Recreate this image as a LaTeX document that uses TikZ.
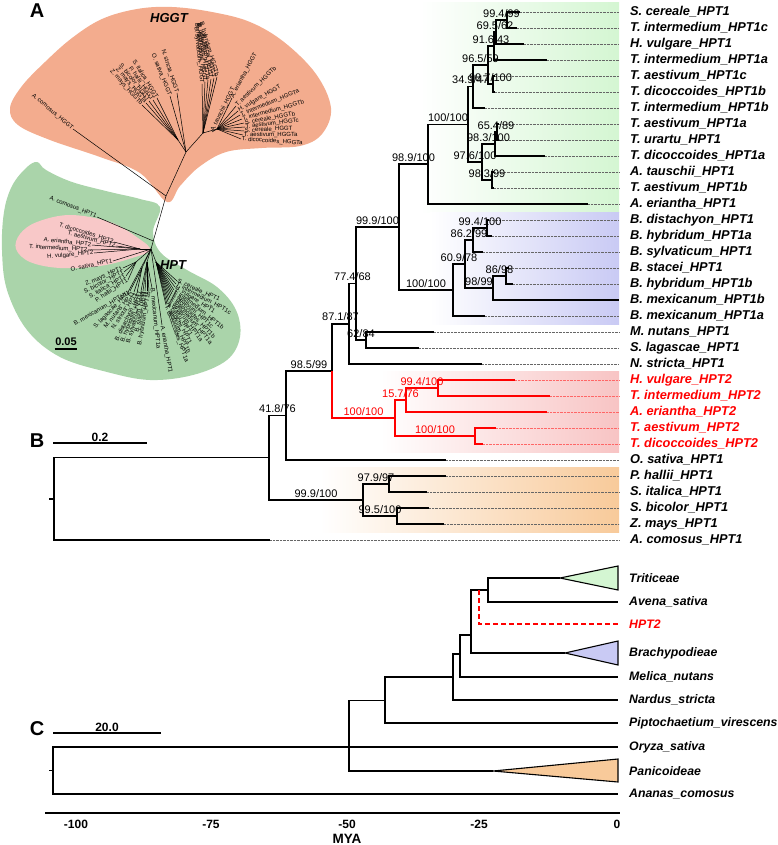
\documentclass[tikz,border=0pt]{standalone}
\usepackage{fontspec}
\setmainfont{Liberation Sans}
\definecolor{hggtorange}{HTML}{F3AC8E}
\definecolor{hptgreen}{HTML}{AAD4AA}
\definecolor{hptpink}{HTML}{F8C8C8}
\definecolor{tritgreen}{HTML}{D4F6D2}
\definecolor{brachblue}{HTML}{C9CAF4}
\definecolor{hpttwored}{HTML}{F8C4C4}
\definecolor{panorange}{HTML}{F8CA9A}
\begin{document}
\begin{tikzpicture}[x=1pt, y=-1pt,
  branch/.style={line width=1.4pt},
  cbranch/.style={line width=1.1pt},
  twig/.style={line width=0.5pt},
  dotl/.style={densely dotted, line width=0.4pt, shorten >=8pt},
  leaf/.style={anchor=west, inner sep=3pt, font=\fontsize{12.8}{13}\selectfont\bfseries\itshape},
  cleaf/.style={anchor=west, inner sep=3pt, font=\fontsize{12.3}{13}\selectfont\bfseries\itshape},
  supp/.style={font=\fontsize{11}{11}\selectfont, inner sep=1pt, above=1pt},
  panel/.style={font=\fontsize{20}{20}\selectfont\bfseries, inner sep=0pt},
  scl/.style={font=\fontsize{12}{12}\selectfont\bfseries, inner sep=1pt},
  tl/.style={font=\fontsize{6}{6}\selectfont, inner sep=0.6pt}]
\useasboundingbox (0,0) rectangle (777,845);

% panel A
\fill[hggtorange] plot[smooth cycle, tension=0.6] coordinates {(167,202) (140,173) (100,157) (50,140) (18,125) (10,108) (22,86) (45,62) (72,38) (102,19) (137,9) (172,7) (212,12) (250,22) (284,42) (316,74) (331,108) (322,134) (300,146) (262,148) (226,152) (199,167) (180,186)};
\fill[hptgreen] plot[smooth cycle, tension=0.6] coordinates {(160,207) (153,232) (161,253) (187,270) (217,287) (236,310) (240,337) (227,360) (193,375) (150,380) (107,372) (60,357) (27,330) (7,290) (2,250) (4,212) (12,186) (26,168) (37,162) (46,170) (72,182) (110,192) (140,199)};
\fill[hptpink] plot[smooth cycle, tension=0.6] coordinates {(150,250) (132,258) (100,266) (60,268) (30,262) (16,249) (20,234) (37,222) (70,215) (110,222) (138,238)};

\coordinate (hC) at (151,249);
\coordinate (sB) at (153.3,241);
\coordinate (sA) at (166,196);
\coordinate (gC) at (186,152);
\coordinate (gM) at (178,140);
\coordinate (gB) at (203,133);
\coordinate (gT) at (217,129);
\coordinate (h2) at (140,249);
\coordinate (hP) at (136,262);
\coordinate (hN) at (142,268);
\coordinate (hB) at (147,262);
\coordinate (hT) at (156,262);
\draw[twig] (hC) -- (sA) -- (gC);
\draw[twig] (gC) -- (gM);
\draw[twig] (gC) -- (gB) -- (gT);
\foreach \q in {h2,hP,hN,hB,hT} \draw[twig] (hC) -- (\q);

\foreach \p/\n/\x/\y/\ang/\anc/\tx in {
  sA/gComo/73/129/-40/east/A. comosus\_HGGT,
  gC/gOsat/170/96/-68/east/O. sativa\_HGGT,
  gC/gNstr/177/93/-72/east/N. stricta\_HGGT,
  gM/gSita/157/98/-58/east/S. italica\_HGGT,
  gM/gPhal/153/100/-55/east/P. hallii\_HGGT,
  gM/gSbic/149/101/-52/east/S. bicolor\_HGGT,
  gM/gZmaa/146/103/-50/east/Z. mays\_HGGTa,
  gM/gZmab/142/105/-48/east/Z. mays\_HGGTb,
  gB/gBsyl/202/84/-84/east/B. sylvaticum\_HGGT,
  gB/gBmex/205/82/-82/east/B. mexicanum\_HGGT,
  gB/gBhya/208/80/-80/east/B. hybridum\_HGGTa,
  gB/gBdis/211/79/-78/east/B. distachyon\_HGGT,
  gB/gBsta/214/78/-76/east/B. stacei\_HGGT,
  gB/gBhyb/217/77/-74/east/B. hybridum\_HGGTb,
  gT/gAtau/212/132/64/west/A. tauschii\_HGGT,
  gT/gAeri/232/98/62/west/A. eriantha\_HGGT,
  gT/gTaeb/236/106/44/west/T. aestivum\_HGGTb,
  gT/gHvul/238/111/30/west/H. vulgare\_HGGT,
  gT/gTina/240/115/22/west/T. intermedium\_HGGTa,
  gT/gTinb/242/119/15/west/T. intermedium\_HGGTb,
  gT/gSceb/244/123/10/west/S. cereale\_HGGTb,
  gT/gTaec/245/127/7/west/T. aestivum\_HGGTc,
  gT/gScer/244/131/3/west/S. cereale\_HGGT,
  gT/gTaea/243/135/0/west/T. aestivum\_HGGTa,
  gT/gTdia/241/139/-4/west/T. dicoccoides\_HGGTa,
  sB/hComo/97/217/-22/east/A. comosus\_HPT1,
  h2/hTdi2/114/242/-17/east/T. dicoccoides\_HPT2,
  h2/hTae2/116/246/-15/east/T. aestivum\_HPT2,
  h2/hAer2/92/245/-6/east/A. eriantha\_HPT2,
  h2/hTin2/88/250/-3/east/T. intermedium\_HPT2,
  h2/hHvu2/94/253/5/east/H. vulgare\_HPT2,
  hC/hOsat/113/261/12/east/O. sativa\_HPT1,
  hP/hZmay/123/268/24/east/Z. mays\_HPT1,
  hP/hSbic/124/272/27/east/S. bicolor\_HPT1,
  hP/hSita/126/276/30/east/S. italica\_HPT1,
  hP/hPhal/128/280/33/east/P. hallii\_HPT1,
  hC/hBmxb/127/294/30/east/B. mexicanum\_HPT1b,
  hN/hSlag/130/291/46/east/S. lagascae\_HPT1,
  hN/hMnut/134/292/51/east/M. nutans\_HPT1,
  hN/hNstr/137/293/56/east/N. stricta\_HPT1,
  hB/hBdis/141/291/64/east/B. distachyon\_HPT1,
  hB/hBhya/143/291/68/east/B. hybridum\_HPT1a,
  hB/hBsyl/145/291/72/east/B. sylvaticum\_HPT1,
  hB/hBsta/147/291/76/east/B. stacei\_HPT1,
  hB/hBhyb/149/291/80/east/B. hybridum\_HPT1b,
  hB/hBmxa/152/288/-84/west/B. mexicanum\_HPT1a,
  hC/hAer1/162/325/-80/west/A. eriantha\_HPT1,
  hT/hScer/177/281/-24/west/S. cereale\_HPT1,
  hT/hTinc/176/284/-28/west/T. intermedium\_HPT1c,
  hT/hHvul/175/287/-33/west/H. vulgare\_HPT1,
  hT/hTinb/174/290/-38/west/T. intermedium\_HPT1b,
  hT/hTaec/173/292/-42/west/T. aestivum\_HPT1c,
  hT/hTdib/172/294/-46/west/T. dicoccoides\_HPT1b,
  hT/hTina/171/296/-50/west/T. intermedium\_HPT1a,
  hT/hTaea/170/298/-54/west/T. aestivum\_HPT1a,
  hT/hTura/169/300/-58/west/T. urartu\_HPT1,
  hT/hAtau/168/302/-62/west/A. tauschii\_HPT1,
  hT/hTaeb/167/304/-66/west/T. aestivum\_HPT1b,
  hT/hTdia/166/305/-70/west/T. dicoccoides\_HPT1a}{
  \coordinate (\n) at (\x,\y);
  \draw[twig] (\p) -- (\n);
  \node[tl, rotate=\ang, anchor=\anc] (l\n) at (\n) {\tx};
}
\node[font=\fontsize{13}{13}\selectfont\bfseries\itshape] (hggtlab) at (169,18) {HGGT};
\node[font=\fontsize{13}{13}\selectfont\bfseries\itshape] (hptlab) at (173,265) {HPT};
\node[font=\fontsize{11}{11}\selectfont\bfseries, inner sep=0.5pt] (sca) at (66,342) {0.05};
\draw[line width=1.2pt] (sca.south west) ++(0,2.5) coordinate (scal) (sca.south east) ++(0,2.5) coordinate (scar);
\draw[line width=1.2pt] (scal) -- (scar);
\node[panel] (pA) at (37,11) {A};

% panel B
\shade[left color=white, right color=tritgreen] (420,3) rectangle (619,212);
\shade[left color=white, right color=brachblue] (430,212) rectangle (619,324);
\shade[left color=white, right color=hpttwored] (380,371) rectangle (619,452);
\shade[left color=white, right color=panorange] (320,467) rectangle (619,532);

\foreach \n/\x/\c/\tx [count=\i] in {
  Scer/520/black/S. cereale\_HPT1, Tint1c/517/black/T. intermedium\_HPT1c,
  Hvul1/524/black/H. vulgare\_HPT1, Tint1a/547/black/T. intermedium\_HPT1a,
  Taes1c/495/black/T. aestivum\_HPT1c, Tdic1b/495/black/T. dicoccoides\_HPT1b,
  Tint1b/485/black/T. intermedium\_HPT1b, Taes1a/499/black/T. aestivum\_HPT1a,
  Tura/499/black/T. urartu\_HPT1, Tdic1a/545/black/T. dicoccoides\_HPT1a,
  Atau/494/black/A. tauschii\_HPT1, Taes1b/494/black/T. aestivum\_HPT1b,
  Aeri1/588/black/A. eriantha\_HPT1, Bdis/489/black/B. distachyon\_HPT1,
  Bhyb1a/492/black/B. hybridum\_HPT1a, Bsyl/483/black/B. sylvaticum\_HPT1,
  Bsta/509/black/B. stacei\_HPT1, Bhyb1b/513/black/B. hybridum\_HPT1b,
  Bmex1b/619/black/B. mexicanum\_HPT1b, Bmex1a/485/black/B. mexicanum\_HPT1a,
  Mnut/434/black/M. nutans\_HPT1, Slag/419/black/S. lagascae\_HPT1,
  Nstr/482/black/N. stricta\_HPT1, Hvul2/515/red/H. vulgare\_HPT2,
  Tint2/550/red/T. intermedium\_HPT2, Aeri2/547/red/A. eriantha\_HPT2,
  Taes2/496/red/T. aestivum\_HPT2, Tdic2/483/red/T. dicoccoides\_HPT2,
  Osat/446/black/O. sativa\_HPT1, Phal/446/black/P. hallii\_HPT1,
  Sita/427/black/S. italica\_HPT1, Sbic/429/black/S. bicolor\_HPT1,
  Zmay/444/black/Z. mays\_HPT1, Como/270/black/A. comosus\_HPT1}{
  \coordinate (t\n) at (\x,{12+16*(\i-1)});
  \node[leaf, text=\c] (n\n) at (627,{12+16*(\i-1)}) {\tx};
  \draw[dotl, draw=\c!60] (t\n) -- (n\n.west);
}

\coordinate (bRt) at (49,498.9);
\coordinate (bR) at (54,498.9);
\coordinate (bA) at (269,457.7);
\coordinate (bB) at (286,415.4);
\coordinate (bC) at (332,370.9);
\coordinate (bD) at (349,323.8);
\coordinate (bF) at (356,283.5);
\coordinate (bH) at (366,340);
\coordinate (bG) at (399,227);
\coordinate (bI) at (428,164.1);
\coordinate (bK) at (468,124.3);
\coordinate (bL) at (473,86.5);
\coordinate (bL1) at (488,65);
\coordinate (bN3) at (494,46);
\coordinate (bN2) at (496,32);
\coordinate (bN1) at (507,20);
\coordinate (bL3) at (493,84);
\coordinate (bM) at (482,162);
\coordinate (bM1) at (495,144);
\coordinate (bM3) at (497,132);
\coordinate (bM2) at (492,180);
\coordinate (bJ) at (453,290);
\coordinate (bAA) at (465,264);
\coordinate (bAB) at (473,240);
\coordinate (bAD) at (487,228);
\coordinate (bAC) at (493,288);
\coordinate (bAE) at (506,276);
\coordinate (bE) at (395,418);
\coordinate (bV) at (406,400);
\coordinate (bX) at (438,388);
\coordinate (bW) at (475,436);
\coordinate (bPan) at (363,500);
\coordinate (bY) at (389,484);
\coordinate (bZ) at (397,516);

\draw[branch] (bRt) -- (bR);
\foreach \p/\c in {bR/bA, bR/tComo, bB/tOsat, bD/tNstr, bH/tMnut, bH/tSlag,
  bI/tAeri1, bL/tTint1b, bN3/tTint1a, bN2/tHvul1, bN1/tScer, bN1/tTint1c,
  bL3/tTaes1c, bL3/tTdic1b, bM1/tTdic1a, bM3/tTaes1a, bM3/tTura, bM2/tAtau,
  bM2/tTaes1b, bJ/tBmex1a, bAB/tBsyl, bAD/tBdis, bAD/tBhyb1a, bAC/tBmex1b,
  bAE/tBsta, bAE/tBhyb1b, bY/tPhal, bY/tSita, bZ/tSbic, bZ/tZmay}
  \draw[branch] (\p) |- (\c);
\foreach \p/\c/\s in {bA/bB/41.8\slash 76, bA/bPan/99.9\slash 100,
  bB/bC/98.5\slash 99, bC/bD/87.1\slash 87, bD/bF/77.4\slash 68,
  bF/bG/99.9\slash 100, bF/bH/62\slash 84, bG/bI/98.9\slash 100,
  bG/bJ/100\slash 100, bI/bK/100\slash 100, bK/bL/34.9\slash 47,
  bK/bM/97.6\slash 100, bL/bL1/96.5\slash 59, bL1/bN3/91.6\slash 43,
  bL1/bL3/98.7\slash 100, bN3/bN2/69.5\slash 62, bN2/bN1/99.4\slash 99,
  bM/bM1/98.3\slash 100, bM/bM2/98.3\slash 99, bM1/bM3/65.4\slash 89,
  bJ/bAA/60.9\slash 78, bAA/bAB/86.2\slash 99, bAA/bAC/98\slash 99,
  bAB/bAD/99.4\slash 100, bAC/bAE/86\slash 98,
  bPan/bY/97.9\slash 97, bPan/bZ/99.5\slash 100}
  \draw[branch] (\p) |- node[supp, pos=0.75] {\s} (\c);
\foreach \p/\c/\s in {bC/bE/100\slash 100, bE/bV/15.7\slash 76,
  bE/bW/100\slash 100, bV/bX/99.4\slash 100}
  \draw[branch, red] (\p) |- node[supp, pos=0.75] {\s} (\c);
\foreach \p/\c in {bV/tAeri2, bX/tHvul2, bX/tTint2, bW/tTaes2, bW/tTdic2}
  \draw[branch, red] (\p) |- (\c);

\coordinate (sbl) at (53,443);
\coordinate (sbr) at (147,443);
\draw[line width=1.2pt] (sbl) -- node[scl, above] (sbt) {0.2} (sbr);
\node[panel] (pB) at (37,441) {B};

% panel C
\coordinate (cRt) at (49,770.5);
\coordinate (cR) at (53,770.5);
\coordinate (cOry) at (618,747);
\coordinate (cAna) at (618,794);
\coordinate (cP) at (349,736);
\coordinate (cQ) at (385,700.5);
\coordinate (cPtip) at (493,771);
\coordinate (cR2) at (453,677);
\coordinate (cPip) at (618,723);
\coordinate (cS) at (460,654);
\coordinate (cNar) at (618,700);
\coordinate (cT) at (471,635);
\coordinate (cMel) at (618,677);
\coordinate (cU) at (488,590);
\coordinate (cBtip) at (565,653);
\coordinate (cTtip) at (560,578);
\coordinate (cAve) at (618,602);
\coordinate (cH2) at (479,590);
\coordinate (cHP) at (618,624);

\draw[cbranch] (cRt) -- (cR);
\foreach \p/\c in {cR/cOry, cR/cAna, cP/cQ, cP/cPtip, cQ/cR2, cQ/cPip,
  cR2/cS, cR2/cNar, cS/cT, cS/cMel, cT/cU, cT/cBtip, cU/cTtip, cU/cAve}
  \draw[cbranch] (\p) |- (\c);
\draw[cbranch, red, dash pattern=on 5pt off 3pt] (cH2) |- (cHP);
\draw[cbranch, fill=tritgreen] (cTtip) -- (618,566) -- (618,590) -- cycle;
\draw[cbranch, fill=brachblue] (cBtip) -- (618,641) -- (618,665) -- cycle;
\draw[cbranch, fill=panorange] (cPtip) -- (618,759) -- (618,782) -- cycle;

\foreach \n/\y/\c/\tx in {Tri/578/black/Triticeae, Ave/602/black/Avena\_sativa,
  HP/624/red/HPT2, Bra/653/black/Brachypodieae, Mel/677/black/Melica\_nutans,
  Nar/700/black/Nardus\_stricta, Pip/723/black/Piptochaetium\_virescens,
  Ory/747/black/Oryza\_sativa, Pan/771/black/Panicoideae,
  Ana/794/black/Ananas\_comosus}
  \node[cleaf, text=\c] (m\n) at (626,\y) {\tx};

\coordinate (csl) at (53,733);
\coordinate (csr) at (161,733);
\draw[line width=1.2pt] (csl) -- node[scl, above] (cst) {20.0} (csr);
\node[panel] (pC) at (37,729) {C};

\coordinate (ax0) at (45,813);
\coordinate (ax1) at (620,813);
\draw[line width=1.2pt] (ax0) -- (ax1);
\foreach \v/\x in {-100/76, -75/211, -50/347, -25/479, 0/617}
  \node[scl] (tk\x) at (\x,824) {\v};
\node[font=\fontsize{13.5}{14}\selectfont\bfseries] (mya) at (347,839) {MYA};
\end{tikzpicture}
\end{document}
